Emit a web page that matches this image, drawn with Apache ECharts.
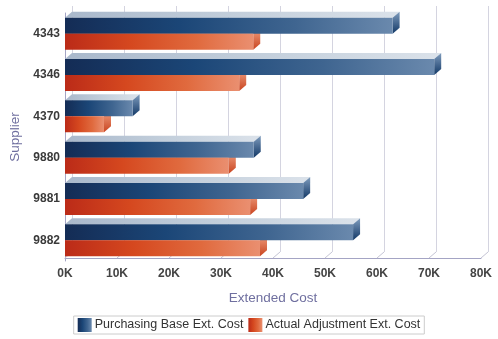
<!DOCTYPE html>
<html><head><meta charset="utf-8">
<script src="https://cdn.jsdelivr.net/npm/echarts@6/dist/echarts.min.js"></script>
<style>html,body{margin:0;padding:0;background:#fff}#c{width:498px;height:339px}</style>
</head><body><div id="c"></div>
<script>
var categories = ['4343', '4346', '4370', '9880', '9881', '9882'];
var purchasingBase = [63000, 71000, 13000, 36300, 45800, 55400];
var actualAdjustment = [36200, 33500, 7500, 31500, 35600, 37500];
var xTicks = [0, 10000, 20000, 30000, 40000, 50000, 60000, 70000, 80000];
var seriesNames = ['Purchasing Base Ext. Cost', 'Actual Adjustment Ext. Cost'];

var FONT = 'Liberation Sans, Arial, sans-serif';
var DX = 7, DY = 6, BW = 16;
function grad(stops) {
  return new echarts.graphic.LinearGradient(0, 0, 1, 0, stops.map(function (s) { return { offset: s[0], color: s[1] }; }));
}
var blueFront = grad([[0, '#142c55'], [0.35, '#1b4677'], [0.7, '#3f6590'], [1, '#6a89ad']]);
var orangeFront = grad([[0, '#bb2b18'], [0.35, '#d5481f'], [0.7, '#e06a3e'], [1, '#ea8f70']]);
var blueTop = grad([[0, '#a9b8cb'], [0.5, '#c2cedb'], [1, '#dbe2ea']]);
var orangeTop = grad([[0, '#e07050'], [1, '#f0a890']]);

function faces(isBlue) {
  return function (params, api) {
    var v = api.value(0), cat = api.value(1);
    var p = api.coord([v, cat]);
    var x0 = api.coord([0, cat])[0];
    var yTop = isBlue ? p[1] - BW : p[1];
    var yBot = yTop + BW;
    var x1 = p[0];
    return {
      type: 'group',
      children: [
        { type: 'polygon', shape: { points: [[x0, yTop], [x0 + DX, yTop - DY], [x1 + DX, yTop - DY], [x1, yTop]] },
          style: { fill: isBlue ? blueTop : orangeTop } },
        { type: 'polygon', shape: { points: [[x1, yTop], [x1 + DX, yTop - DY], [x1 + DX, yBot - DY], [x1, yBot]] },
          style: { fill: new echarts.graphic.LinearGradient(0, 0, 0, 1, isBlue ?
            [{ offset: 0, color: '#7f9cbd' }, { offset: 1, color: '#123866' }] :
            [{ offset: 0, color: '#f0a080' }, { offset: 1, color: '#c94420' }]) } }
      ]
    };
  };
}

var chart = echarts.init(document.getElementById('c'));
chart.setOption({
  animation: false,
  textStyle: { fontFamily: FONT },
  legend: {
    data: seriesNames,
    left: 'center', top: 316,
    itemWidth: 14, itemHeight: 14, itemGap: 5,
    icon: 'rect',
    borderColor: '#cccccc', borderWidth: 1, padding: [2, 4],
    textStyle: { fontSize: 12.5, color: '#333', fontFamily: FONT, padding: [0, 0, 0, -2] }
  },
  grid: [
    { left: 65, right: 17, top: 13, bottom: 78 },
    { left: 72, right: 10, top: 6, bottom: 87 }
  ],
  xAxis: [
    { gridIndex: 0, type: 'value', min: 0, max: 80000, interval: 10000, offset: -3,
      axisLine: { show: true, lineStyle: { color: '#a4a4c4' } },
      axisTick: { show: false }, splitLine: { show: false },
      axisLabel: { fontSize: 12, color: '#444', fontWeight: 'bold', margin: 10, formatter: function (v) { return (v / 1000) + 'K'; } },
      name: 'Extended Cost', nameLocation: 'middle', nameGap: 33,
      nameTextStyle: { fontSize: 13.5, color: '#6f6f9f' } },
    { gridIndex: 1, type: 'value', min: 0, max: 80000, interval: 10000,
      axisLine: { show: false }, axisTick: { show: false }, axisLabel: { show: false },
      splitLine: { show: true, lineStyle: { color: '#d4d4e0' } } }
  ],
  yAxis: [
    { gridIndex: 0, type: 'category', data: categories, inverse: true,
      axisLine: { show: true, lineStyle: { color: '#a4a4c4' } },
      axisTick: { show: false },
      axisLabel: { fontSize: 12, color: '#3a3a3a', fontWeight: 'bold', margin: 5 },
      name: 'Supplier', nameLocation: 'middle', nameGap: 38,
      nameTextStyle: { fontSize: 13.5, color: '#6f6f9f' } },
    { gridIndex: 1, type: 'category', data: categories, inverse: true, show: false }
  ],
  series: [
    { type: 'custom', xAxisIndex: 0, yAxisIndex: 0, z: 1, silent: true,
      data: xTicks.map(function (v) { return [v]; }),
      renderItem: function (params, api) {
        var x = api.coord([api.value(0), 0])[0];
        var y = params.coordSys.y + params.coordSys.height - 3;
        return { type: 'line', shape: { x1: x, y1: y, x2: x + DX, y2: y - DY },
          style: { stroke: '#c4c4d4', lineWidth: 1 } };
      } },
    { type: 'custom', name: 'blue3d', xAxisIndex: 0, yAxisIndex: 0, z: 2,
      data: purchasingBase.map(function (v, i) { return [v, i]; }), renderItem: faces(true) },
    { type: 'custom', name: 'orange3d', xAxisIndex: 0, yAxisIndex: 0, z: 2,
      data: actualAdjustment.map(function (v, i) { return [v, i]; }), renderItem: faces(false) },
    { type: 'bar', name: seriesNames[0], xAxisIndex: 0, yAxisIndex: 0, z: 3,
      barWidth: BW, barGap: '0%', data: purchasingBase, itemStyle: { color: blueFront } },
    { type: 'bar', name: seriesNames[1], xAxisIndex: 0, yAxisIndex: 0, z: 3,
      barWidth: BW, barGap: '0%', data: actualAdjustment, itemStyle: { color: orangeFront } }
  ]
});
</script>
</body></html>
